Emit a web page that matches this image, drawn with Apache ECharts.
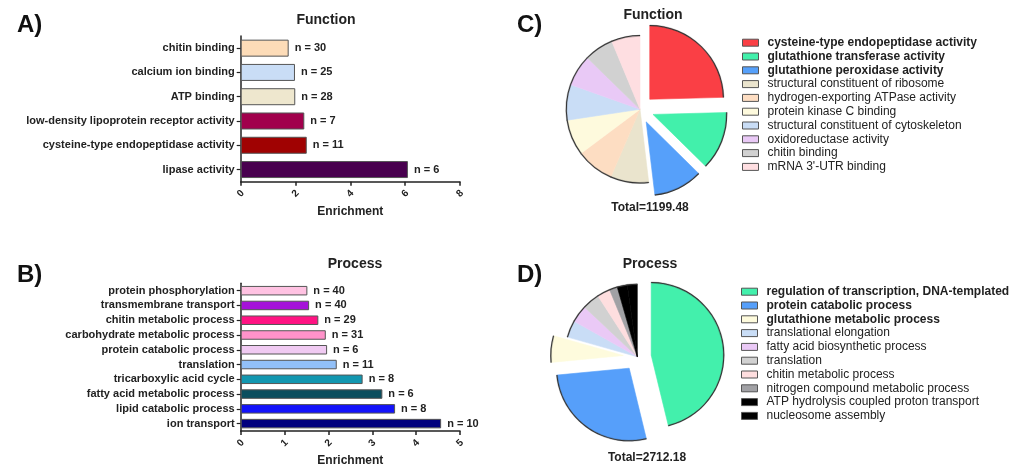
<!DOCTYPE html>
<html>
<head>
<meta charset="utf-8">
<script src="https://cdn.jsdelivr.net/npm/echarts@6/dist/echarts.min.js"></script>
<style>
html,body{margin:0;padding:0;background:#fff;}
#chart{width:1018px;height:468px;}
</style>
</head>
<body>
<div id="chart"></div>
<script>
// ---- Panel A: Function enrichment ----
const funcCats = ['chitin binding','calcium ion binding','ATP binding','low-density lipoprotein receptor activity','cysteine-type endopeptidase activity','lipase activity'];
const funcEnrich = [1.75, 1.98, 1.99, 2.32, 2.41, 6.1];
const funcN = [30, 25, 28, 7, 11, 6];
const funcBarColors = ['#FDDCB8','#C9DDF6','#EEE7CE','#A1004C','#A00202','#49004F'];
const funcTicks = [0, 8, 2];

// ---- Panel B: Process enrichment ----
const procCats = ['protein phosphorylation','transmembrane transport','chitin metabolic process','carbohydrate metabolic process','protein catabolic process','translation','tricarboxylic acid cycle','fatty acid metabolic process','lipid catabolic process','ion transport'];
const procEnrich = [1.52, 1.56, 1.77, 1.94, 1.97, 2.19, 2.78, 3.23, 3.52, 4.57];
const procN = [40, 40, 29, 31, 6, 11, 8, 6, 8, 10];
const procBarColors = ['#FFC2E2','#A512D9','#FF1383','#FF92CA','#F0CAF2','#92C0F8','#1297B0','#0B4E5E','#1313FA','#01007E'];
const procTicks = [0, 5, 1];

// ---- Panel C: Function pie ----
const pieFuncNames = ['cysteine-type endopeptidase activity','glutathione transferase activity','glutathione peroxidase activity','structural constituent of ribosome','hydrogen-exporting ATPase activity','protein kinase C binding','structural constituent of cytoskeleton','oxidoreductase activity','chitin binding','mRNA 3\'-UTR binding'];
const pieFuncValues = [294.9, 153.3, 128.9, 100.3, 99.6, 94.3, 93.6, 82.6, 77.0, 75.0];
const pieFuncColors = ['#FA3F45','#42F0AB','#56A0FA','#EAE4CD','#FDDDC2','#FEFADD','#C9DDF6','#E9C9F6','#D1D1D1','#FEDEE1'];
const pieFuncTotal = 'Total=1199.48';

// ---- Panel D: Process pie ----
const pieProcNames = ['regulation of transcription, DNA-templated','protein catabolic process','glutathione metabolic process','translational elongation','fatty acid biosynthetic process','translation','chitin metabolic process','nitrogen compound metabolic process','ATP hydrolysis coupled proton transport','nucleosome assembly'];
const pieProcValues = [1253, 740, 160, 102, 105, 104, 79, 48, 61, 60];
const pieProcColors = ['#43F0AC','#569FFA','#FEFBDD','#C9DDF6','#EAC9F6','#D1D1D1','#FEDEDF','#A1A1A5','#000000','#000000'];
const pieProcTotal = 'Total=2712.18';

const highlightCount = 3;
const FONT = '"Liberation Sans", Arial, sans-serif';

const chart = echarts.init(document.getElementById('chart'), null, {renderer: 'canvas'});

function barSeries(idx, values, colors, nvals, barWidth) {
  return {
    type: 'bar', xAxisIndex: idx, yAxisIndex: idx,
    barWidth: barWidth,
    data: values.map((v, i) => ({value: v, itemStyle: {color: colors[i]}})),
    itemStyle: {borderColor: '#555', borderWidth: 1},
    label: {
      show: true, position: 'right', distance: 6,
      fontFamily: FONT, fontSize: 11, fontWeight: 'bold', color: '#222',
      formatter: p => 'n = ' + nvals[p.dataIndex]
    },
    silent: true, animation: false
  };
}

function xAxisDef(idx, ticks) {
  return {
    type: 'value', gridIndex: idx, min: ticks[0], max: ticks[1], interval: ticks[2],
    name: 'Enrichment', nameLocation: 'middle', nameGap: 24,
    nameTextStyle: {fontFamily: FONT, fontSize: 12, fontWeight: 'bold', color: '#222'},
    axisLine: {show: true, lineStyle: {color: '#222', width: 1.5}},
    axisTick: {show: true, length: 4, lineStyle: {color: '#222', width: 1.5}},
    splitLine: {show: false},
    axisLabel: {rotate: 45, margin: 12, align: 'center', verticalAlign: 'middle',
      fontFamily: FONT, fontSize: 10, fontWeight: 'bold', color: '#222'}
  };
}

function yAxisDef(idx, cats) {
  return {
    type: 'category', gridIndex: idx, data: cats, inverse: true,
    axisLine: {show: true, lineStyle: {color: '#222', width: 1.5}},
    axisTick: {show: true, alignWithLabel: true, length: 4, lineStyle: {color: '#222', width: 1.2}},
    axisLabel: {margin: 6, fontFamily: FONT, fontSize: 11, fontWeight: 'bold', color: '#222'}
  };
}

function pieSeries(center, r, names, values, colors) {
  return [{
    type: 'pie', center: center, radius: [0, r], startAngle: 90, clockwise: true,
    selectedMode: 'multiple', selectedOffset: 14,
    data: names.map((n, i) => ({
      name: n, value: values[i], selected: i < highlightCount,
      itemStyle: {color: colors[i], borderColor: colors[i], borderWidth: 0.6}
    })),
    label: {show: false}, labelLine: {show: false},
    silent: true, animation: false
  }, {
    type: 'pie', center: center, radius: [r - 0.3, r + 0.7], startAngle: 90, clockwise: true,
    selectedMode: 'multiple', selectedOffset: 14,
    data: names.map((n, i) => ({name: n, value: values[i], selected: i < highlightCount,
      itemStyle: {color: '#333', borderColor: '#333', borderWidth: 0.3}})),
    label: {show: false}, labelLine: {show: false},
    silent: true, animation: false, z: 3
  }];
}

function legendDef(left, top, names) {
  const bold = new Set(names.slice(0, highlightCount));
  return {
    orient: 'vertical', left: left, top: top, data: names, padding: 0,
    icon: 'rect', itemWidth: 16, itemHeight: 7, itemGap: 0,
    itemStyle: {borderColor: '#555', borderWidth: 1},
    selectedMode: false,
    formatter: n => bold.has(n) ? '{b|' + n + '}' : '{n|' + n + '}',
    textStyle: {
      fontFamily: FONT, fontSize: 12, color: '#222', lineHeight: 13.8,
      rich: {
        b: {fontFamily: FONT, fontSize: 12, fontWeight: 'bold', color: '#222', lineHeight: 13.8, padding: [0, 0, 0, 4]},
        n: {fontFamily: FONT, fontSize: 12, color: '#222', lineHeight: 13.8, padding: [0, 0, 0, 4]}
      }
    }
  };
}

const option = {
  animation: false,
  backgroundColor: '#fff',
  title: [
    {text: 'A)', left: 12, top: 8, textStyle: {fontFamily: FONT, fontSize: 24, fontWeight: 'bold', color: '#111'}},
    {text: 'B)', left: 12, top: 258, textStyle: {fontFamily: FONT, fontSize: 24, fontWeight: 'bold', color: '#111'}},
    {text: 'C)', left: 512, top: 8, textStyle: {fontFamily: FONT, fontSize: 24, fontWeight: 'bold', color: '#111'}},
    {text: 'D)', left: 512, top: 258, textStyle: {fontFamily: FONT, fontSize: 24, fontWeight: 'bold', color: '#111'}},
    {text: 'Function', left: 321, top: 8, textAlign: 'center', textStyle: {fontFamily: FONT, fontSize: 14, fontWeight: 'bold', color: '#222'}},
    {text: 'Process', left: 350, top: 252, textAlign: 'center', textStyle: {fontFamily: FONT, fontSize: 14, fontWeight: 'bold', color: '#222'}},
    {text: 'Function', left: 648, top: 3, textAlign: 'center', textStyle: {fontFamily: FONT, fontSize: 14, fontWeight: 'bold', color: '#222'}},
    {text: 'Process', left: 645, top: 252, textAlign: 'center', textStyle: {fontFamily: FONT, fontSize: 14, fontWeight: 'bold', color: '#222'}},
    {text: pieFuncTotal, left: 645, top: 197, textAlign: 'center', textStyle: {fontFamily: FONT, fontSize: 12, fontWeight: 'bold', color: '#222'}},
    {text: pieProcTotal, left: 642, top: 447, textAlign: 'center', textStyle: {fontFamily: FONT, fontSize: 12, fontWeight: 'bold', color: '#222'}}
  ],
  grid: [
    {left: 240.7, top: 36, width: 219.3, height: 145.7},
    {left: 240.7, top: 283.3, width: 219.3, height: 148.4}
  ],
  xAxis: [xAxisDef(0, funcTicks), xAxisDef(1, procTicks)],
  yAxis: [yAxisDef(0, funcCats), yAxisDef(1, procCats)],
  legend: [
    legendDef(742, 35.8, pieFuncNames),
    legendDef(741, 284.8, pieProcNames)
  ],
  series: [
    barSeries(0, funcEnrich, funcBarColors, funcN, 17),
    barSeries(1, procEnrich, procBarColors, procN, 9.5),
    ...pieSeries([640, 109.3], 73.5, pieFuncNames, pieFuncValues, pieFuncColors),
    ...pieSeries([637.3, 356.8], 72.4, pieProcNames, pieProcValues, pieProcColors)
  ]
};
chart.setOption(option);
</script>
</body>
</html>
